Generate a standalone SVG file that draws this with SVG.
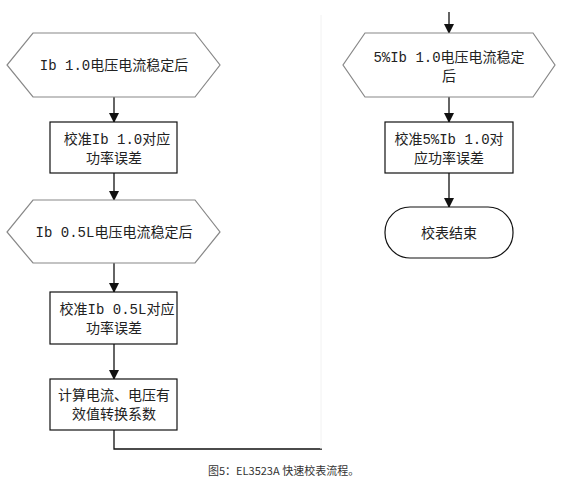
<svg xmlns="http://www.w3.org/2000/svg" width="585" height="483" viewBox="0 0 585 483">
<defs>
<marker id="arr" markerWidth="10" markerHeight="10" refX="9" refY="5" orient="auto" markerUnits="userSpaceOnUse">
<path d="M0,0 L10,5 L0,10 Z" fill="#111"/>
</marker>
<style>
.hex{fill:#fff;stroke:#888;stroke-width:1.2}
.box{fill:#fff;stroke:#111;stroke-width:1.2}
.t{font-family:"Liberation Mono","Noto Sans CJK SC",monospace;font-size:14px;fill:#222;text-anchor:middle}
.ln{stroke:#111;stroke-width:1.3;fill:none}
.cap{font-family:"Noto Sans CJK SC",sans-serif;font-size:11px;fill:#333}
</style>
</defs>
<rect width="585" height="483" fill="#fff"/>
<g id="connectors">
<line class="ln" x1="114" y1="97" x2="114" y2="122" marker-end="url(#arr)"/>
<line class="ln" x1="114" y1="173" x2="114" y2="200" marker-end="url(#arr)"/>
<line class="ln" x1="114" y1="263" x2="114" y2="292" marker-end="url(#arr)"/>
<line class="ln" x1="114" y1="344" x2="114" y2="379" marker-end="url(#arr)"/>
<polyline class="ln" points="114,430 114,449 322,449"/>
<line x1="321" y1="15" x2="321" y2="449" stroke="#f2f2f2" stroke-width="1"/>
<line class="ln" x1="449" y1="12" x2="449" y2="33" marker-end="url(#arr)"/>
<line class="ln" x1="449" y1="97" x2="449" y2="122" marker-end="url(#arr)"/>
<line class="ln" x1="449" y1="173" x2="449" y2="207" marker-end="url(#arr)"/>
</g>
<g id="n1">
<polygon class="hex" points="33,33 195,33 220,65 195,97 33,97 7,65"/>
<text class="t" x="114" y="70">Ib 1.0电压电流稳定后</text>
</g>
<g id="n2">
<rect class="box" x="50" y="122" width="127" height="51"/>
<text class="t" x="117" y="144">校准Ib 1.0对应</text>
<text class="t" x="114" y="163">功率误差</text>
</g>
<g id="n3">
<polygon class="hex" points="33,200 195,200 220,232 195,263 33,263 7,232"/>
<text class="t" x="114" y="237">Ib 0.5L电压电流稳定后</text>
</g>
<g id="n4">
<rect class="box" x="50" y="292" width="127" height="52"/>
<text class="t" x="117" y="314">校准Ib 0.5L对应</text>
<text class="t" x="114" y="333">功率误差</text>
</g>
<g id="n5">
<rect class="box" x="50" y="379" width="127" height="51"/>
<text class="t" x="114" y="400">计算电流、电压有</text>
<text class="t" x="114" y="419">效值转换系数</text>
</g>
<g id="n6">
<polygon class="hex" points="365,33 533,33 555,65 533,97 365,97 343,65"/>
<text class="t" x="449" y="62">5%Ib 1.0电压电流稳定</text>
<text class="t" x="449" y="81">后</text>
</g>
<g id="n7">
<rect class="box" x="385" y="122" width="128" height="51"/>
<text class="t" x="449" y="144">校准5%Ib 1.0对</text>
<text class="t" x="449" y="163">应功率误差</text>
</g>
<g id="n8">
<rect class="box" x="385" y="207" width="128" height="51" rx="25" ry="25"/>
<text class="t" x="449" y="238">校表结束</text>
</g>
<text class="cap" x="208" y="475">图5：EL3523A 快速校表流程。</text>
</svg>
